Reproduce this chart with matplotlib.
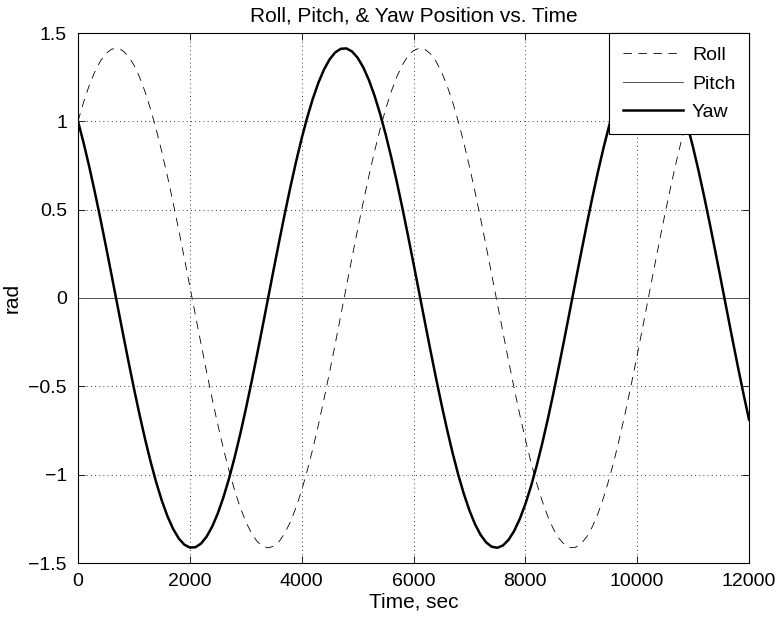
import matplotlib.pyplot as plt
import numpy as np

plt.rcParams['font.family'] = ['Liberation Sans', 'DejaVu Sans']

# time, sec (sampled every 100 s)
time_sec = list(range(0, 12001, 100))

roll = [1.0, 1.1086, 1.2023, 1.2802, 1.3409, 1.3838, 1.4082, 1.4138, 1.4007, 1.3689,
        1.3187, 1.2511, 1.1668, 1.0669, 0.9528, 0.8260, 0.6882, 0.5413, 0.3870, 0.2280,
        0.0653, -0.0977, -0.2597, -0.4183, -0.5711, -0.7164, -0.8522, -0.9766, -1.0879, -1.1848,
        -1.2659, -1.3302, -1.3767, -1.4048, -1.4142, -1.4048, -1.3767, -1.3302, -1.2660, -1.1849,
        -1.0881, -0.9768, -0.8524, -0.7166, -0.5713, -0.4185, -0.2599, -0.0980, 0.0653, 0.2278,
        0.3869, 0.5411, 0.6880, 0.8258, 0.9526, 1.0667, 1.1666, 1.2510, 1.3187, 1.3688,
        1.4006, 1.4138, 1.4082, 1.3838, 1.3410, 1.2803, 1.2025, 1.1087, 1.0002, 0.8783,
        0.7447, 0.6012, 0.4496, 0.2922, 0.1307, -0.0322, -0.1947, -0.3551, -0.5106, -0.6592,
        -0.7989, -0.9281, -1.0449, -1.1478, -1.2353, -1.3064, -1.3602, -1.3957, -1.4127, -1.4109,
        -1.3902, -1.3510, -1.2939, -1.2194, -1.1288, -1.0231, -0.9038, -0.7724, -0.6306, -0.4807,
        -0.3242, -0.1634, -0.0004, 0.1626, 0.3235, 0.4799, 0.6299, 0.7718, 0.9032, 1.0226,
        1.1283, 1.2191, 1.2936, 1.3508, 1.3900, 1.4108, 1.4127, 1.3959, 1.3604, 1.3067,
        1.2357]

pitch = [0.0] * len(time_sec)

yaw = [1.0, 0.8781, 0.7445, 0.6009, 0.4495, 0.2919, 0.1306, -0.0325, -0.1949, -0.3553,
       -0.5109, -0.6595, -0.7992, -0.9283, -1.0450, -1.1479, -1.2354, -1.3065, -1.3602, -1.3958,
       -1.4127, -1.4108, -1.3901, -1.3510, -1.2937, -1.2193, -1.1286, -1.0229, -0.9035, -0.7722,
       -0.6305, -0.4804, -0.3239, -0.1629, -0.0002, 0.1632, 0.3237, 0.4804, 0.6302, 0.7720,
       0.9033, 1.0227, 1.1284, 1.2192, 1.2937, 1.3509, 1.3901, 1.4108, 1.4127, 1.3958,
       1.3603, 1.3066, 1.2356, 1.1481, 1.0452, 0.9285, 0.7994, 0.6596, 0.5111, 0.3557,
       0.1952, 0.0328, -0.1302, -0.2918, -0.4492, -0.6007, -0.7443, -0.8779, -0.9998, -1.1084,
       -1.2023, -1.2801, -1.3408, -1.3837, -1.4081, -1.4138, -1.4007, -1.3689, -1.3188, -1.2511,
       -1.1669, -1.0670, -0.9529, -0.8262, -0.6885, -0.5416, -0.3874, -0.2283, -0.0657, 0.0975,
       0.2594, 0.4180, 0.5709, 0.7162, 0.8520, 0.9764, 1.0878, 1.1847, 1.2658, 1.3300,
       1.3766, 1.4047, 1.4142, 1.4049, 1.3767, 1.3303, 1.2661, 1.1851, 1.0882, 0.9769,
       0.8525, 0.7169, 0.5716, 0.4187, 0.2602, 0.0983, -0.0649, -0.2275, -0.3866, -0.5408,
       -0.6877]

fig = plt.figure(figsize=(7.77, 6.17), dpi=100)
ax = fig.add_axes([78 / 777, 1 - 563 / 617, (749 - 78) / 777, (563 - 33) / 617])

ax.plot(time_sec, roll, color='black', linestyle=(0, (10, 8)), linewidth=0.6, label='Roll')
ax.plot(time_sec, pitch, color='#555555', linewidth=0.7, label='Pitch')
ax.plot(time_sec, yaw, color='black', linewidth=1.8, label='Yaw')

ax.set_xlim(0, 12000)
ax.set_ylim(-1.5, 1.5)
ax.set_xticks(np.arange(0, 12001, 2000))
ax.set_yticks(np.arange(-1.5, 1.51, 0.5))
ax.set_yticklabels(['\u22121.5', '\u22121', '\u22120.5', '0', '0.5', '1', '1.5'])
ax.tick_params(direction='in', top=True, right=True, length=5, labelsize=14, width=0.6)
ax.tick_params(axis='x', pad=7)
ax.tick_params(axis='y', pad=8)
ax.grid(True, linestyle=(0, (1, 4)), color='black', linewidth=0.6)
for s in ax.spines.values():
    s.set_linewidth(0.8)

ax.set_title('Roll, Pitch, & Yaw Position vs. Time', fontsize=15, pad=8)
ax.set_xlabel('Time, sec', fontsize=15, labelpad=2)
ax.set_ylabel('rad', fontsize=15, labelpad=5)

leg = ax.legend(loc='upper right', fontsize=14, fancybox=False, framealpha=1,
                edgecolor='black', borderaxespad=0, handlelength=3.1,
                borderpad=0.7, labelspacing=0.55, handletextpad=0.45)
leg.get_frame().set_linewidth(0.8)

fig.savefig('out.png', dpi=100)
